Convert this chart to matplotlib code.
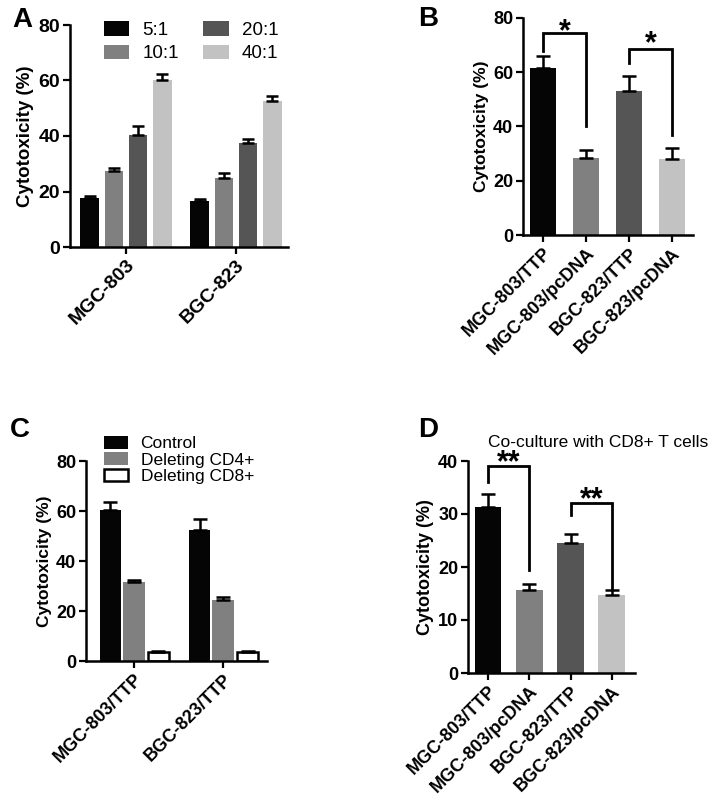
import matplotlib
matplotlib.use("Agg")
import matplotlib.pyplot as plt
import numpy as np

plt.rcParams['font.family'] = ['Liberation Sans', 'DejaVu Sans']

# ---------------- data ----------------
# Panel A
a_groups = ["MGC-803", "BGC-823"]
a_series = ["5:1", "10:1", "20:1", "40:1"]
a_vals = {"5:1": [17.5, 16.5], "10:1": [27.5, 25.0], "20:1": [40.5, 37.5], "40:1": [60.0, 52.5]}
a_errs = {"5:1": [0.8, 0.8], "10:1": [0.8, 1.5], "20:1": [3.2, 1.5], "40:1": [2.3, 2.0]}
a_colors = {"5:1": "#050505", "10:1": "#808080", "20:1": "#555555", "40:1": "#c2c2c2"}

# Panel B
b_cats = ["MGC-803/TTP", "MGC-803/pcDNA", "BGC-823/TTP", "BGC-823/pcDNA"]
b_vals = [61.5, 28.5, 53.0, 28.0]
b_errs = [4.5, 3.0, 5.5, 4.0]
b_colors = ["#050505", "#808080", "#555555", "#c2c2c2"]

# Panel C
c_groups = ["MGC-803/TTP", "BGC-823/TTP"]
c_series = ["Control", "Deleting CD4+", "Deleting CD8+"]
c_vals = {"Control": [60.5, 52.5], "Deleting CD4+": [31.5, 24.5], "Deleting CD8+": [3.5, 3.5]}
c_errs = {"Control": [3.2, 4.2], "Deleting CD4+": [0.8, 1.3], "Deleting CD8+": [0.7, 0.5]}

# Panel D
d_cats = ["MGC-803/TTP", "MGC-803/pcDNA", "BGC-823/TTP", "BGC-823/pcDNA"]
d_vals = [31.3, 15.7, 24.5, 14.7]
d_errs = [2.5, 1.0, 1.8, 0.9]
d_colors = ["#050505", "#808080", "#555555", "#c2c2c2"]
d_title = "Co-culture with CD8+ T cells"

ylabel = "Cytotoxicity (%)"

# ---------------- figure ----------------
fig = plt.figure(figsize=(7.25, 7.98), dpi=100)


def style_axes(ax, fs, lfs):
    for s in ["top", "right"]:
        ax.spines[s].set_visible(False)
    for s in ["left", "bottom"]:
        ax.spines[s].set_linewidth(1.8)
    ax.tick_params(axis="both", width=1.6, length=5, labelsize=fs, pad=2)
    for lab in ax.get_yticklabels():
        lab.set_fontweight("bold")
    ax.set_ylabel(ylabel, fontsize=lfs, fontweight="bold", labelpad=3)


def bracket(ax, x1, x2, ytop, yl, yr, star, sy, fs):
    ax.plot([x1, x1, x2, x2], [yl, ytop, ytop, yr], color="black", lw=2.0,
            clip_on=False, solid_joinstyle="miter")
    ax.text((x1 + x2) / 2, sy, star, ha="center", va="center", fontsize=fs,
            fontweight="bold", clip_on=False)


ekw = dict(elinewidth=1.8, capthick=1.8, ecolor="black")

# ---------- Panel A ----------
axA = fig.add_axes([70 / 725, 1 - 247 / 798, 218 / 725, 222 / 798])
xa = np.arange(len(a_groups))
pitch = 0.221
wA = 0.168
for i, s in enumerate(a_series):
    pos = xa + (i - 1.5) * pitch
    axA.bar(pos, a_vals[s], width=wA, color=a_colors[s], label=s, zorder=2)
    axA.errorbar(pos, a_vals[s], yerr=[np.zeros(2), a_errs[s]], fmt="none",
                 capsize=4, zorder=3, **ekw)
axA.set_xlim(-0.509, 1.473)
axA.set_ylim(0, 80)
axA.set_yticks([0, 20, 40, 60, 80])
axA.set_xticks(xa)
axA.set_xticklabels(a_groups, rotation=45, ha="right", rotation_mode="anchor",
                    fontweight="bold", fontsize=13.5)
style_axes(axA, 14, 13.5)
axA.legend(ncol=2, loc="upper left", bbox_to_anchor=(0.156, 1.017), frameon=False,
           fontsize=13.5, handlelength=1.35, handleheight=0.8, columnspacing=1.3,
           labelspacing=0.3, handletextpad=0.7, borderpad=0, borderaxespad=0)
fig.text(12 / 725, 1 - 27 / 798, "A", fontsize=20, fontweight="bold")

# ---------- Panel B ----------
axB = fig.add_axes([523 / 725, 1 - 235 / 798, 170 / 725, 217 / 798])
xb = np.arange(len(b_cats))
axB.bar(xb, b_vals, width=0.6, color=b_colors, zorder=2)
axB.errorbar(xb, b_vals, yerr=[np.zeros(4), b_errs], fmt="none", capsize=5,
             zorder=3, **ekw)
axB.set_xlim(-0.465, 3.49)
axB.set_ylim(0, 80)
axB.set_yticks([0, 20, 40, 60, 80])
axB.set_xticks(xb)
axB.set_xticklabels(b_cats, rotation=45, ha="right", rotation_mode="anchor",
                    fontweight="bold", fontsize=12.5)
style_axes(axB, 13, 12.5)
bracket(axB, 0, 1, 74.5, 68.0, 40.0, "*", 74.8, 22)
bracket(axB, 2, 3, 68.6, 63.4, 37.0, "*", 70.3, 22)
fig.text(418 / 725, 1 - 26 / 798, "B", fontsize=20, fontweight="bold")

# ---------- Panel C ----------
axC = fig.add_axes([86 / 725, 1 - 661 / 798, 181 / 725, 200 / 798])
xc = np.arange(len(c_groups))
c_face = {"Control": "#050505", "Deleting CD4+": "#808080", "Deleting CD8+": "white"}
c_offsets = [-0.264, 0.0, 0.275]
for i, s in enumerate(c_series):
    pos = xc + c_offsets[i]
    axC.bar(pos, c_vals[s], width=0.24, color=c_face[s], edgecolor="black",
            linewidth=1.8 if s == "Deleting CD8+" else 0, label=s, zorder=2)
    axC.errorbar(pos, c_vals[s], yerr=[np.zeros(2), c_errs[s]], fmt="none",
                 capsize=5, zorder=3, **ekw)
axC.set_xlim(-0.539, 1.494)
axC.set_ylim(0, 80)
axC.set_yticks([0, 20, 40, 60, 80])
axC.set_xticks(xc)
axC.set_xticklabels(c_groups, rotation=45, ha="right", rotation_mode="anchor",
                    fontweight="bold", fontsize=11.5)
style_axes(axC, 13, 12.5)
axC.legend(loc="upper left", bbox_to_anchor=(0.1, 1.125), frameon=False,
           fontsize=12.5, handlelength=1.4, handleheight=0.75, labelspacing=0.05,
           handletextpad=0.7, borderaxespad=0, borderpad=0)
fig.text(10 / 725, 1 - 437 / 798, "C", fontsize=20, fontweight="bold")

# ---------- Panel D ----------
axD = fig.add_axes([468 / 725, 1 - 673 / 798, 167 / 725, 212 / 798])
xd = np.arange(len(d_cats))
axD.bar(xd, d_vals, width=0.65, color=d_colors, zorder=2)
axD.errorbar(xd, d_vals, yerr=[np.zeros(4), d_errs], fmt="none", capsize=5,
             zorder=3, **ekw)
axD.set_xlim(-0.484, 3.56)
axD.set_ylim(0, 40)
axD.set_yticks([0, 10, 20, 30, 40])
axD.set_xticks(xd)
axD.set_xticklabels(d_cats, rotation=45, ha="right", rotation_mode="anchor",
                    fontweight="bold", fontsize=12.5)
style_axes(axD, 13, 13)
bracket(axD, 0, 1, 39.0, 36.0, 19.4, "**", 39.6, 22)
bracket(axD, 2, 3, 32.0, 29.8, 16.0, "**", 32.6, 22)
fig.text(488 / 725, 1 - 447 / 798, d_title, fontsize=12.5, va="baseline")
fig.text(418 / 725, 1 - 437 / 798, "D", fontsize=20, fontweight="bold")

fig.savefig("out.png", dpi=100, facecolor="white")
